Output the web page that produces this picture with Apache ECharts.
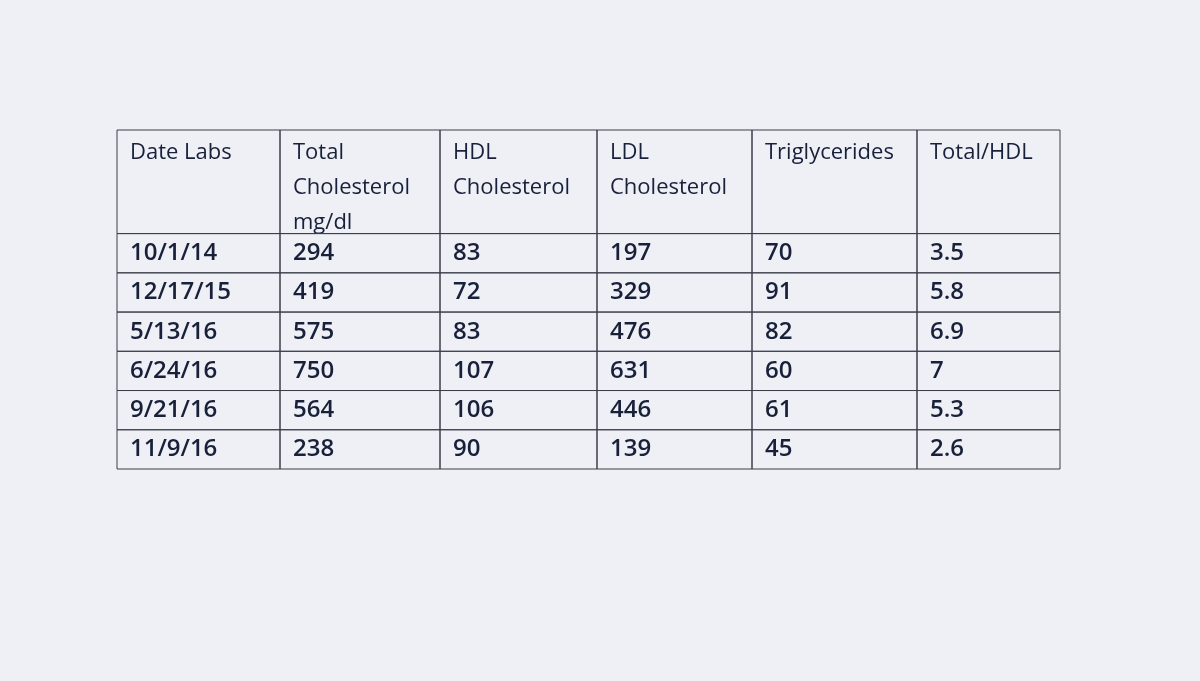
<!DOCTYPE html>
<html><head><meta charset="utf-8">
<script src="https://cdn.jsdelivr.net/npm/echarts@6/dist/echarts.min.js"></script>
<style>html,body{margin:0;padding:0;background:#eef0f6}#c{width:1200px;height:681px}</style>
</head><body><div id="c"></div>
<script>
const headers = ["Date Labs", "Total\nCholesterol\nmg/dl", "HDL\nCholesterol", "LDL\nCholesterol", "Triglycerides", "Total/HDL"];
const dates = ["10/1/14", "12/17/15", "5/13/16", "6/24/16", "9/21/16", "11/9/16"];
const totalChol = ["294", "419", "575", "750", "564", "238"];
const hdl = ["83", "72", "83", "107", "106", "90"];
const ldl = ["197", "329", "476", "631", "446", "139"];
const trig = ["70", "91", "82", "60", "61", "45"];
const ratio = ["3.5", "5.8", "6.9", "7", "5.3", "2.6"];

// relative column widths (layout)
const colWidths = [163, 160, 157, 155, 165, 143];
const colEdges = [0];
colWidths.forEach(w => colEdges.push(colEdges[colEdges.length - 1] + w));

const columns = [dates, totalChol, hdl, ldl, trig, ratio];
const H = 2.64;
const data = [];
headers.forEach((h, c) => data.push([c, 0, H, h, 1]));
columns.forEach((col, c) => col.forEach((v, r) => data.push([c, H + r, H + r + 1, v, 0])));

const chart = echarts.init(document.getElementById('c'));
chart.setOption({
  backgroundColor: '#eef0f6',
  grid: {left: 117, right: 140, top: 130, bottom: 212},
  xAxis: {type: 'value', min: 0, max: colEdges[6], show: false},
  yAxis: {type: 'value', min: 0, max: H + 6, inverse: true, show: false},
  series: [{
    type: 'custom',
    data: data,
    renderItem: function (params, api) {
      const c = api.value(0), y0 = api.value(1), y1 = api.value(2);
      const p0 = api.coord([colEdges[c], y0]), p1 = api.coord([colEdges[c + 1], y1]);
      const item = data[params.dataIndex];
      const isHead = item[4] === 1;
      return {
        type: 'group',
        children: [
          {type: 'rect', shape: {x: p0[0], y: p0[1], width: p1[0] - p0[0], height: p1[1] - p0[1]},
           style: {fill: 'none', stroke: '#3a3f4a', lineWidth: 1}},
          {type: 'text', x: p0[0] + 13, y: isHead ? p0[1] + 5 : (p0[1] + p1[1]) / 2,
           style: {text: item[3], fill: '#18203a',
             font: isHead ? '500 22px "Open Sans", Lato, sans-serif' : '600 24px "Open Sans", Lato, sans-serif',
             lineHeight: 35, verticalAlign: isHead ? 'top' : 'middle', align: 'left'}}
        ]
      };
    }
  }]
});
</script></body></html>
